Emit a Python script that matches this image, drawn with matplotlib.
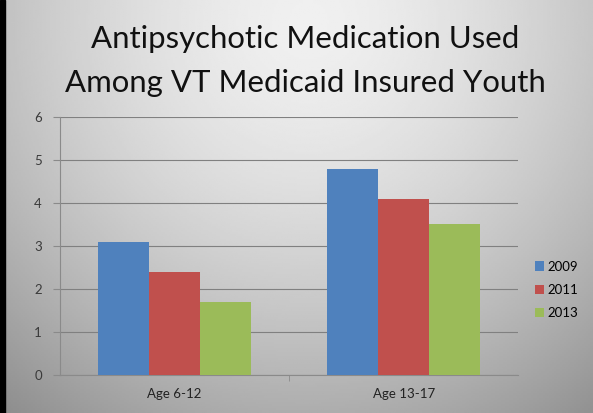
import numpy as np
import matplotlib
matplotlib.use("Agg")
import matplotlib.pyplot as plt

# data
groups = ["Age 6-12", "Age 13-17"]
years = ["2009", "2011", "2013"]
v2009 = [3.1, 4.8]
v2011 = [2.4, 4.1]
v2013 = [1.7, 3.5]
colors = ["#4f81bd", "#c0504d", "#9bbb59"]

plt.rcParams["font.family"] = ["Lato", "DejaVu Sans"]

fig = plt.figure(figsize=(5.93, 4.13), dpi=100)

# gray slide background, lighter in the upper middle
bg = fig.add_axes([0, 0, 1, 1], zorder=-10)
yy, xx = np.mgrid[0:1:200j, 0:1:300j]
r = np.sqrt(((xx - 0.52) / 0.75) ** 2 + ((yy - 0.05) / 1.1) ** 2)
shade = 0.94 - 0.33 * r ** 1.6
bg.imshow(shade, cmap="gray", vmin=0, vmax=1, aspect="auto", extent=[0, 1, 1, 0])
bg.axvspan(0, 0.008, color="black")
bg.set_xlim(0, 1)
bg.set_ylim(1, 0)
bg.axis("off")

fig.text(0.515, 0.905, "Antipsychotic Medication Used", ha="center", va="center",
         fontsize=22.4, color="#111111")
fig.text(0.515, 0.80, "Among VT Medicaid Insured Youth", ha="center", va="center",
         fontsize=22.4, color="#111111")

ax = fig.add_axes([0.101, 0.092, 0.773, 0.625])
ax.patch.set_alpha(0)
x = np.arange(len(groups))
w = 0.223
for i, (vals, lab) in enumerate(zip([v2009, v2011, v2013], years)):
    ax.bar(x + (i - 1) * w, vals, w, color=colors[i], label=lab, zorder=3)

ax.set_xlim(-0.5, 1.5)
ax.set_ylim(0, 6)
ax.set_yticks(range(7))
ax.set_xticks(x)
ax.set_xticklabels(groups)
ax.set_xticks([0.5], minor=True)
ax.grid(axis="y", color="#808080", linewidth=0.8, zorder=0)
for s in ["top", "right"]:
    ax.spines[s].set_visible(False)
ax.spines["left"].set_color("#8a8a8a")
ax.spines["bottom"].set_color("#8a8a8a")
ax.tick_params(axis="y", length=5, color="#8a8a8a", labelsize=9.5, labelcolor="#3a3a3a", pad=8)
ax.tick_params(axis="x", which="major", length=0, labelsize=9.5, labelcolor="#222222", pad=9)
ax.tick_params(axis="x", which="minor", length=4, color="#8a8a8a")

leg = ax.legend(loc="center left", bbox_to_anchor=(1.01, 0.33), frameon=False,
                fontsize=9.5, handlelength=0.7, handleheight=0.7, handletextpad=0.3,
                labelspacing=0.85)

fig.savefig("out.png", dpi=100)
